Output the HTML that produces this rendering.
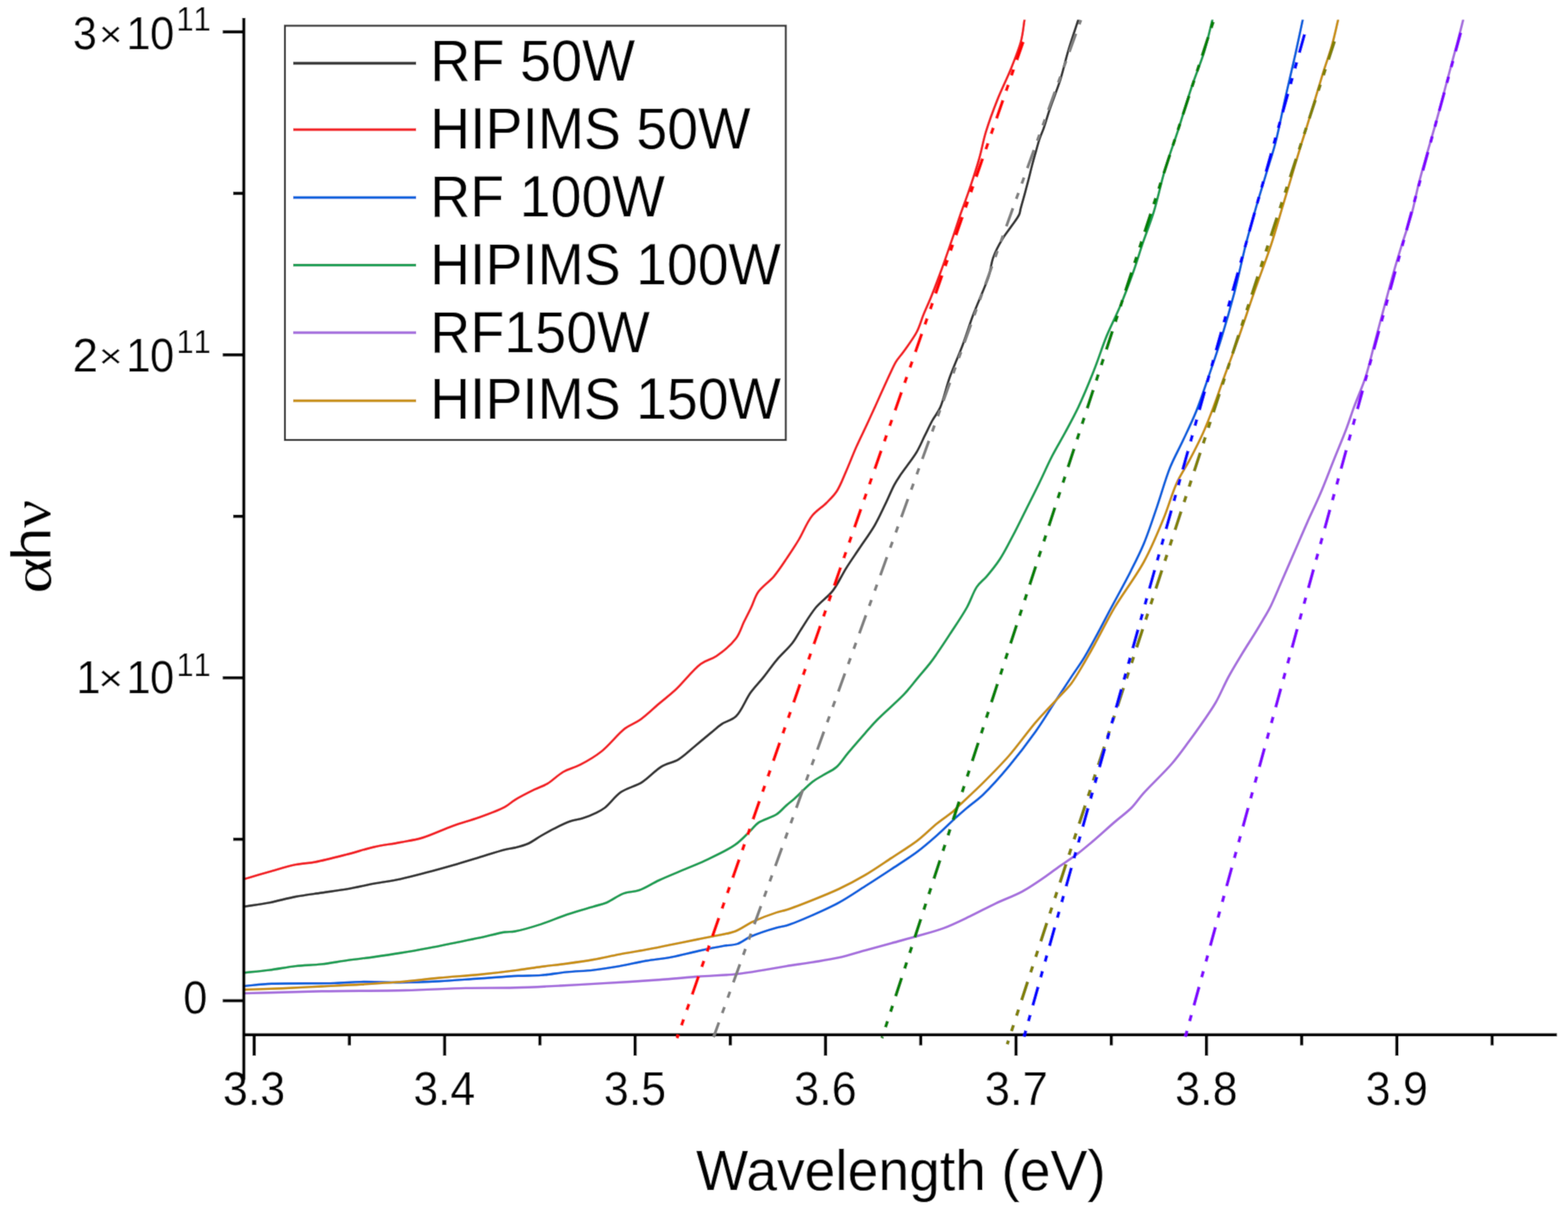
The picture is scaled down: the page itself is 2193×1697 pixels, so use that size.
<!DOCTYPE html>
<html><head><meta charset="utf-8"><style>html,body{margin:0;padding:0;background:#fff;overflow:hidden}svg{display:block}</style></head>
<body><svg width="2193" height="1697" viewBox="0 0 2193 1697">
<defs><filter id="soft" x="0" y="0" width="100%" height="100%" filterUnits="userSpaceOnUse"><feConvolveMatrix order="3" kernelMatrix="0.0225 0.105 0.0225 0.105 0.49 0.105 0.0225 0.105 0.0225" divisor="1" edgeMode="duplicate" preserveAlpha="true"/></filter></defs>
<g filter="url(#soft)">
<rect width="100%" height="100%" fill="#fff"/>
<defs><clipPath id="pc"><rect x="343" y="27.5" width="1840" height="1424"/></clipPath></defs>
<g clip-path="url(#pc)" fill="none" stroke-linejoin="round" stroke-linecap="round">
<path d="M341.8,1268.3 C353.4,1266.5 364.9,1265.0 376.6,1262.8 C388.7,1260.5 401.0,1256.8 413.3,1254.5 C425.5,1252.2 437.7,1250.8 449.9,1249.0 C462.1,1247.2 474.3,1245.7 486.5,1243.6 C498.8,1241.5 511.0,1238.5 523.2,1236.2 C535.4,1233.9 547.6,1232.4 559.8,1229.8 C572.0,1227.2 584.2,1223.9 596.4,1220.7 C608.6,1217.5 620.8,1214.1 633.0,1210.6 C645.2,1207.1 657.5,1203.3 669.7,1199.6 C681.9,1195.9 697.0,1190.9 706.3,1188.6 C711.9,1187.2 715.1,1187.2 720.0,1186.0 C725.7,1184.6 732.4,1183.0 738.3,1180.4 C744.6,1177.6 750.5,1172.9 756.6,1169.4 C762.7,1165.9 768.5,1162.6 775.0,1159.3 C781.9,1155.8 789.9,1151.7 797.0,1149.2 C803.2,1147.0 809.2,1146.6 815.2,1144.7 C821.4,1142.7 828.2,1140.0 833.6,1137.3 C838.2,1135.0 841.5,1133.4 846.0,1130.0 C852.6,1124.9 859.9,1114.1 868.4,1108.2 C877.1,1102.2 888.4,1100.3 897.7,1094.5 C907.4,1088.5 915.9,1078.0 925.1,1072.5 C933.0,1067.8 941.3,1067.1 948.9,1062.5 C957.2,1057.5 964.9,1049.6 972.7,1043.2 C980.2,1037.0 988.1,1030.3 994.7,1024.9 C1000.1,1020.5 1003.9,1016.7 1009.4,1013.0 C1015.4,1009.0 1023.5,1007.8 1029.5,1002.0 C1037.3,994.5 1042.8,978.7 1049.7,969.0 C1055.7,960.7 1062.0,954.6 1068.0,947.1 C1074.2,939.4 1079.7,931.1 1086.3,923.3 C1093.1,915.2 1102.4,907.2 1108.3,899.5 C1113.2,893.2 1115.5,888.0 1120.0,881.1 C1125.9,872.1 1133.3,859.3 1141.0,850.0 C1148.3,841.2 1157.9,835.3 1164.8,826.4 C1172.0,817.2 1176.9,805.3 1183.2,795.3 C1189.2,785.8 1195.1,777.4 1201.5,767.8 C1208.5,757.3 1217.1,745.7 1223.4,734.8 C1229.1,724.9 1233.4,715.1 1238.1,705.5 C1242.6,696.2 1246.8,685.7 1250.9,678.1 C1254.0,672.3 1256.3,669.1 1260.1,663.4 C1265.8,654.9 1276.3,642.0 1282.1,632.3 C1286.7,624.5 1289.4,617.6 1293.0,610.3 C1296.7,603.0 1300.2,595.2 1304.0,588.3 C1307.5,581.8 1311.6,577.6 1315.0,570.0 C1319.9,559.1 1323.1,542.3 1328.2,528.1 C1333.6,513.1 1340.9,497.3 1346.5,482.3 C1351.8,468.0 1356.3,453.1 1361.2,440.2 C1365.5,429.0 1370.1,418.7 1374.0,409.0 C1377.4,400.5 1380.7,393.3 1383.2,385.2 C1385.7,377.0 1386.2,368.3 1389.2,360.0 C1392.4,351.3 1397.4,342.0 1402.0,334.4 C1406.0,327.7 1410.7,322.2 1414.7,316.3 C1418.5,310.8 1423.3,305.0 1425.4,300.3 C1426.8,297.2 1426.6,295.2 1427.5,291.8 C1428.8,286.7 1431.0,279.2 1432.8,272.7 C1434.6,266.0 1436.4,259.3 1438.2,252.4 C1440.0,245.4 1441.7,238.0 1443.5,231.1 C1445.2,224.5 1447.0,218.3 1448.8,212.0 C1450.5,205.9 1452.2,199.4 1454.1,193.8 C1455.8,188.8 1457.6,185.4 1459.5,180.0 C1462.2,172.3 1465.0,162.1 1468.5,151.9 C1472.7,139.6 1478.7,125.1 1483.0,111.6 C1487.2,98.2 1489.9,84.9 1494.0,71.3 C1498.2,57.1 1503.3,42.6 1507.9,28.2" stroke="#333333" stroke-width="3.4"/>
<path d="M341.8,1229.8 C353.4,1226.4 364.8,1223.0 376.6,1219.7 C388.7,1216.3 401.9,1212.0 413.3,1209.7 C423.0,1207.7 430.5,1207.9 440.7,1206.0 C454.1,1203.5 472.1,1198.7 486.5,1195.0 C499.4,1191.7 510.7,1187.8 523.0,1185.0 C535.2,1182.3 548.1,1180.8 559.8,1178.5 C570.6,1176.4 580.0,1175.3 591.0,1172.0 C604.1,1168.1 619.4,1160.5 633.0,1155.6 C645.6,1151.1 657.6,1148.1 669.7,1143.7 C681.9,1139.3 696.9,1133.9 706.0,1129.0 C712.0,1125.7 714.4,1122.6 720.0,1119.2 C727.5,1114.6 739.2,1108.7 747.5,1104.6 C754.2,1101.3 759.6,1099.9 765.8,1096.3 C773.0,1092.0 780.0,1084.4 787.8,1079.9 C795.3,1075.6 803.4,1074.1 811.6,1069.8 C821.0,1064.9 831.3,1059.1 840.9,1051.5 C852.0,1042.8 863.5,1027.3 873.8,1019.4 C881.5,1013.6 888.4,1011.8 895.8,1006.6 C904.3,1000.6 913.1,991.8 921.5,984.6 C929.6,977.7 936.8,972.4 945.3,964.5 C956.0,954.5 969.2,936.8 980.1,928.8 C987.7,923.2 994.6,922.8 1002.0,917.8 C1011.1,911.6 1022.9,901.8 1029.5,893.0 C1034.9,885.7 1036.9,877.5 1040.5,870.1 C1043.9,863.2 1047.2,856.9 1050.5,850.0 C1053.9,842.9 1055.6,835.1 1060.4,828.2 C1065.8,820.4 1075.7,814.2 1082.4,806.3 C1089.1,798.3 1094.9,789.2 1100.7,780.6 C1106.4,772.1 1111.7,764.2 1117.2,755.0 C1123.3,744.8 1128.4,730.9 1135.5,722.0 C1141.5,714.4 1149.7,709.8 1155.7,703.7 C1161.1,698.2 1166.0,693.8 1170.3,687.2 C1175.4,679.5 1178.9,669.5 1183.2,659.7 C1188.0,648.8 1192.8,636.1 1197.8,624.9 C1202.6,614.2 1208.0,603.5 1212.5,593.8 C1216.4,585.3 1219.1,579.4 1223.4,570.0 C1229.5,556.5 1240.3,532.4 1245.8,520.8 C1248.8,514.4 1250.2,510.9 1253.1,506.1 C1256.2,501.1 1260.1,497.2 1264.1,491.5 C1269.5,483.8 1277.7,473.1 1282.4,464.0 C1286.5,456.0 1288.3,448.3 1291.6,440.2 C1295.0,431.8 1298.8,424.0 1302.6,414.5 C1307.2,403.0 1312.4,389.2 1317.2,376.1 C1322.2,362.4 1327.4,347.2 1331.9,334.0 C1335.9,322.3 1339.1,312.0 1342.9,301.0 C1346.8,289.8 1350.9,279.4 1355.0,267.3 C1359.8,253.2 1365.5,236.0 1369.6,221.5 C1373.3,208.7 1374.9,197.6 1378.8,184.8 C1383.2,170.3 1389.3,153.8 1395.2,139.0 C1400.9,124.6 1408.0,110.9 1413.6,96.9 C1419.0,83.4 1425.0,69.0 1428.2,56.6 C1430.8,46.4 1431.3,37.7 1432.8,28.2" stroke="#F21E22" stroke-width="3.4"/>
<path d="M341.8,1379.5 C354.5,1378.4 364.6,1377.0 380.0,1376.3 C403.3,1375.2 445.0,1376.1 468.0,1375.4 C482.9,1375.0 491.3,1373.8 504.8,1373.6 C521.3,1373.3 541.6,1374.7 560.0,1374.5 C578.3,1374.3 596.4,1373.6 614.7,1372.7 C633.0,1371.8 651.4,1370.2 669.7,1369.0 C688.0,1367.8 708.7,1366.1 724.6,1365.3 C736.7,1364.7 745.6,1365.2 756.6,1364.4 C768.4,1363.5 781.1,1361.1 793.3,1359.9 C805.5,1358.7 817.7,1358.5 829.9,1357.1 C842.1,1355.7 854.3,1353.7 866.5,1351.6 C878.8,1349.5 890.9,1346.4 903.2,1344.3 C915.4,1342.2 927.6,1341.1 939.8,1338.8 C952.0,1336.5 964.2,1333.1 976.4,1330.5 C988.6,1327.9 1002.9,1325.0 1013.0,1323.2 C1020.2,1322.0 1025.5,1322.5 1031.4,1320.5 C1037.7,1318.4 1042.4,1313.6 1049.7,1310.4 C1059.7,1306.0 1077.0,1300.4 1086.3,1297.8 C1091.9,1296.2 1094.4,1296.5 1100.0,1294.8 C1109.4,1291.9 1124.5,1285.5 1136.6,1280.2 C1148.9,1274.8 1161.3,1269.4 1173.3,1262.8 C1185.7,1256.0 1197.7,1247.7 1209.9,1239.9 C1222.1,1232.1 1234.3,1224.2 1246.5,1216.1 C1258.8,1208.0 1272.1,1199.8 1283.2,1191.4 C1293.2,1183.9 1301.6,1176.5 1310.6,1168.5 C1319.9,1160.3 1330.3,1149.8 1338.1,1142.8 C1343.7,1137.7 1347.3,1134.6 1352.7,1130.0 C1359.2,1124.4 1366.7,1119.5 1374.7,1111.9 C1385.7,1101.4 1399.5,1085.9 1411.4,1071.6 C1423.9,1056.6 1436.9,1039.6 1448.0,1024.0 C1458.1,1009.7 1466.8,995.3 1475.5,981.9 C1483.5,969.7 1491.1,958.0 1498.3,947.1 C1504.7,937.4 1510.7,929.3 1516.6,919.6 C1522.9,909.2 1528.9,897.8 1535.0,886.6 C1541.2,875.2 1546.5,864.6 1553.3,851.8 C1561.7,836.0 1573.3,815.2 1581.5,798.9 C1588.4,785.2 1594.0,774.4 1599.8,760.5 C1606.3,744.8 1612.1,726.6 1618.1,709.2 C1624.3,691.2 1629.8,670.7 1636.4,654.2 C1642.1,640.1 1648.7,628.8 1654.7,615.8 C1660.9,602.6 1667.3,589.6 1673.0,575.5 C1679.1,560.5 1684.2,544.5 1689.9,528.1 C1696.0,510.5 1702.3,492.3 1708.2,473.2 C1714.5,452.7 1720.8,430.7 1726.5,409.0 C1732.3,387.0 1737.2,362.4 1742.4,342.0 C1746.8,324.8 1750.9,310.4 1755.4,294.7 C1759.9,278.9 1764.9,263.1 1769.6,247.3 C1774.3,231.5 1779.4,216.9 1783.8,200.0 C1788.7,181.0 1792.6,159.6 1797.2,139.0 C1801.9,117.9 1807.5,94.7 1811.9,75.0 C1815.6,58.2 1818.6,43.8 1821.9,28.2" stroke="#0560DD" stroke-width="3.4"/>
<path d="M341.8,1360.8 C353.4,1359.6 364.9,1358.6 376.6,1357.1 C388.7,1355.6 401.0,1353.0 413.3,1351.6 C425.5,1350.2 437.7,1350.3 449.9,1348.9 C462.1,1347.5 474.3,1345.1 486.5,1343.4 C498.7,1341.7 511.0,1340.5 523.2,1338.8 C535.4,1337.1 547.6,1335.3 559.8,1333.3 C572.0,1331.3 584.2,1329.2 596.4,1326.9 C608.6,1324.6 620.8,1322.0 633.0,1319.6 C645.2,1317.1 657.5,1314.8 669.7,1312.2 C681.9,1309.6 697.0,1305.4 706.3,1304.0 C711.9,1303.2 714.4,1304.0 720.0,1303.0 C729.3,1301.4 744.5,1296.9 756.6,1293.0 C768.9,1289.0 781.0,1283.4 793.3,1279.3 C805.4,1275.2 819.8,1271.3 829.9,1268.3 C837.0,1266.2 841.8,1265.4 848.2,1262.8 C855.8,1259.7 864.0,1252.9 872.0,1250.0 C879.3,1247.3 886.4,1248.0 894.0,1245.4 C902.9,1242.3 911.6,1236.2 921.5,1231.6 C932.7,1226.4 946.7,1220.8 958.0,1216.0 C967.8,1211.8 975.5,1209.0 985.6,1204.2 C998.3,1198.2 1016.3,1190.2 1027.7,1182.2 C1036.7,1175.9 1043.7,1167.8 1049.7,1162.0 C1054.0,1157.8 1055.9,1154.3 1060.7,1151.0 C1067.2,1146.5 1079.4,1143.8 1086.3,1139.2 C1091.9,1135.5 1095.6,1130.4 1100.0,1126.6 C1103.8,1123.2 1106.6,1121.3 1111.0,1117.4 C1117.8,1111.4 1129.0,1099.4 1136.6,1093.6 C1142.0,1089.5 1146.1,1087.6 1151.3,1084.4 C1157.1,1080.9 1164.0,1078.2 1169.6,1073.4 C1175.7,1068.1 1180.0,1060.5 1186.1,1053.3 C1193.3,1044.8 1202.7,1034.0 1209.9,1025.8 C1215.9,1019.0 1219.6,1014.5 1226.4,1007.5 C1236.4,997.2 1254.6,981.8 1264.8,970.9 C1272.3,962.9 1277.1,956.2 1283.2,948.9 C1289.3,941.6 1296.6,933.3 1301.5,926.9 C1305.2,922.1 1307.1,919.2 1310.6,914.1 C1315.7,906.7 1322.5,896.5 1328.9,886.6 C1336.3,875.3 1345.7,861.7 1352.2,850.0 C1357.8,839.9 1361.0,828.6 1366.3,820.9 C1370.5,814.8 1375.2,811.9 1380.0,806.3 C1385.8,799.5 1392.5,791.3 1398.3,782.5 C1404.8,772.6 1410.6,760.8 1416.6,749.5 C1422.8,737.7 1428.9,725.1 1435.0,712.9 C1441.1,700.7 1447.3,688.6 1453.3,676.2 C1459.5,663.6 1465.3,650.0 1471.6,637.8 C1477.5,626.3 1483.9,616.0 1489.9,604.8 C1496.0,593.4 1501.9,582.8 1508.0,570.0 C1515.2,554.7 1523.0,535.9 1529.7,518.9 C1536.3,502.4 1541.6,485.0 1548.0,469.5 C1553.9,455.3 1560.4,443.3 1566.3,429.2 C1572.6,414.1 1579.0,397.2 1584.6,381.6 C1589.9,366.8 1594.1,352.3 1599.0,338.0 C1603.8,324.1 1608.8,312.1 1613.5,297.0 C1619.1,278.8 1623.8,255.8 1629.7,236.1 C1635.3,217.2 1642.0,199.8 1648.0,181.2 C1654.2,162.0 1660.0,141.4 1666.3,122.6 C1672.2,104.9 1679.6,87.8 1684.6,71.3 C1689.1,56.4 1691.9,42.6 1695.6,28.2" stroke="#179E53" stroke-width="3.4"/>
<path d="M341.8,1389.7 C377.8,1388.7 413.1,1387.5 449.9,1386.8 C488.2,1386.1 531.2,1386.4 567.0,1385.5 C597.4,1384.8 624.7,1383.0 651.4,1382.4 C675.4,1381.9 697.5,1382.4 720.0,1381.8 C741.7,1381.2 762.7,1380.1 784.0,1379.0 C805.4,1377.9 826.1,1376.7 848.2,1375.4 C871.8,1374.0 898.8,1372.4 921.5,1370.8 C941.1,1369.4 958.1,1367.7 976.4,1366.3 C994.7,1364.9 1015.0,1364.4 1031.4,1362.6 C1044.9,1361.1 1056.2,1359.0 1068.0,1357.1 C1079.0,1355.3 1089.0,1353.4 1100.0,1351.6 C1111.8,1349.7 1124.4,1348.1 1136.6,1346.1 C1148.8,1344.1 1161.1,1342.4 1173.3,1339.7 C1185.6,1336.9 1197.7,1333.0 1209.9,1329.6 C1222.1,1326.3 1234.3,1322.9 1246.5,1319.6 C1258.7,1316.2 1271.0,1313.0 1283.2,1309.5 C1295.4,1306.0 1307.7,1303.0 1319.8,1298.5 C1332.2,1293.9 1344.3,1287.8 1356.4,1282.0 C1368.7,1276.2 1380.7,1269.5 1393.0,1263.7 C1405.2,1257.9 1417.7,1253.7 1429.7,1247.2 C1442.2,1240.4 1457.1,1229.8 1466.3,1223.4 C1472.0,1219.4 1474.6,1217.2 1480.0,1213.3 C1487.6,1207.9 1499.2,1200.4 1507.5,1194.1 C1514.8,1188.5 1520.2,1183.9 1527.6,1177.6 C1536.9,1169.7 1549.1,1158.5 1558.8,1150.1 C1567.2,1142.8 1575.7,1137.0 1582.6,1130.0 C1588.9,1123.6 1592.1,1117.8 1599.0,1110.1 C1609.3,1098.5 1627.9,1081.3 1639.3,1068.0 C1648.6,1057.1 1655.8,1046.7 1663.2,1036.8 C1669.8,1027.9 1675.5,1019.9 1681.5,1011.2 C1687.7,1002.2 1694.0,993.7 1699.8,983.7 C1706.3,972.6 1711.8,958.7 1718.1,947.1 C1724.0,936.2 1730.2,926.1 1736.4,915.9 C1742.4,905.9 1749.4,895.2 1754.7,886.6 C1758.9,879.8 1762.1,874.4 1765.7,868.3 C1769.3,862.2 1772.6,857.2 1776.2,850.0 C1781.1,840.4 1786.3,827.5 1791.6,815.4 C1797.5,802.1 1803.8,787.3 1809.9,773.3 C1816.0,759.3 1822.0,745.1 1828.2,731.2 C1834.2,717.6 1840.6,704.8 1846.5,690.9 C1852.8,676.2 1858.7,660.4 1864.8,645.1 C1870.9,629.8 1878.1,612.9 1883.2,599.3 C1887.3,588.5 1889.6,580.6 1893.5,570.0 C1898.2,557.2 1904.8,543.2 1909.7,528.1 C1915.2,511.2 1919.4,491.5 1924.3,473.2 C1929.2,454.9 1934.4,435.1 1939.0,418.2 C1942.9,403.7 1946.2,391.0 1950.0,377.9 C1953.6,365.4 1957.1,353.9 1961.0,341.3 C1965.2,327.8 1970.4,313.5 1974.3,299.5 C1978.1,285.7 1980.5,271.7 1984.0,258.0 C1987.4,244.5 1991.0,232.0 1995.0,217.8 C1999.5,201.7 2004.9,183.9 2009.7,166.5 C2014.7,148.5 2019.4,129.9 2024.3,111.6 C2029.2,93.3 2035.0,71.9 2039.0,56.6 C2041.9,45.6 2043.9,37.7 2046.3,28.2" stroke="#A66EDD" stroke-width="3.4"/>
<path d="M341.8,1384.6 C359.5,1384.0 377.1,1383.5 395.0,1382.7 C413.2,1381.9 431.6,1380.9 449.9,1380.0 C468.2,1379.1 486.5,1378.4 504.8,1377.3 C523.1,1376.2 541.5,1375.1 559.8,1373.6 C578.1,1372.0 596.4,1369.7 614.7,1368.0 C633.0,1366.3 651.4,1365.3 669.7,1363.5 C688.0,1361.7 708.8,1359.2 724.6,1357.1 C736.7,1355.5 745.6,1354.0 756.6,1352.5 C768.4,1350.9 781.1,1349.7 793.3,1348.0 C805.5,1346.3 817.7,1344.6 829.9,1342.5 C842.1,1340.3 854.3,1337.4 866.5,1335.1 C878.7,1332.8 891.0,1331.0 903.2,1328.7 C915.4,1326.4 927.6,1323.8 939.8,1321.4 C952.0,1318.9 966.3,1316.0 976.4,1314.0 C983.5,1312.6 987.7,1311.9 994.7,1310.4 C1004.1,1308.4 1017.6,1306.8 1027.7,1303.1 C1037.0,1299.6 1044.1,1293.6 1053.3,1289.3 C1063.5,1284.6 1077.6,1279.3 1086.3,1276.5 C1091.8,1274.7 1094.4,1274.7 1100.0,1272.9 C1109.3,1269.9 1124.4,1264.0 1136.6,1259.1 C1148.9,1254.2 1161.2,1249.3 1173.3,1243.6 C1185.6,1237.8 1197.9,1231.4 1209.9,1224.3 C1222.3,1217.0 1234.3,1208.6 1246.5,1200.5 C1258.8,1192.4 1272.1,1184.3 1283.2,1175.8 C1293.3,1168.1 1301.8,1159.1 1310.6,1152.0 C1318.2,1145.8 1327.0,1140.3 1332.6,1135.5 C1336.5,1132.2 1337.8,1130.5 1341.8,1126.6 C1349.4,1119.3 1363.6,1106.5 1374.7,1095.4 C1386.7,1083.4 1399.5,1070.6 1411.4,1057.0 C1423.9,1042.7 1436.0,1025.2 1448.0,1011.2 C1458.8,998.6 1470.8,986.4 1480.0,976.4 C1487.0,968.8 1492.5,963.8 1498.3,956.2 C1504.8,947.6 1510.6,937.0 1516.6,926.9 C1522.9,916.3 1528.5,905.8 1535.0,894.0 C1542.5,880.4 1549.5,865.8 1558.8,850.0 C1570.3,830.5 1588.1,807.5 1599.8,786.1 C1610.7,766.1 1619.4,745.0 1627.3,725.7 C1634.4,708.5 1638.9,690.8 1645.6,676.2 C1651.3,663.9 1657.9,654.6 1663.9,643.3 C1670.1,631.5 1676.6,618.9 1682.2,606.6 C1687.7,594.5 1692.2,582.7 1697.0,570.0 C1702.1,556.6 1706.5,543.0 1711.9,528.1 C1718.1,511.0 1725.2,492.3 1732.0,473.2 C1739.3,452.7 1746.4,430.6 1754.0,409.0 C1761.7,386.9 1771.2,362.5 1777.9,342.0 C1783.5,324.9 1787.4,310.5 1792.1,294.7 C1796.8,278.9 1801.6,263.1 1806.3,247.3 C1811.0,231.5 1816.7,212.2 1820.5,200.0 C1822.9,192.3 1824.2,188.7 1826.5,181.2 C1830.0,169.9 1835.2,152.6 1839.3,139.0 C1843.1,126.4 1846.4,114.9 1850.3,102.4 C1854.4,89.3 1859.6,75.0 1863.2,62.1 C1866.5,50.4 1868.7,39.5 1871.4,28.2" stroke="#C8900A" stroke-width="3.4"/>
</g>
<g stroke="#000" stroke-width="4.5" fill="none" stroke-linecap="butt">
<line x1="341" y1="25" x2="341" y2="1510.5"/>
<line x1="339" y1="1447.8" x2="2177.5" y2="1447.8"/>
<line x1="355.5" y1="1446" x2="355.5" y2="1477"/>
<line x1="488.7" y1="1446" x2="488.7" y2="1462.5"/>
<line x1="621.9" y1="1446" x2="621.9" y2="1477"/>
<line x1="755.1" y1="1446" x2="755.1" y2="1462.5"/>
<line x1="888.2" y1="1446" x2="888.2" y2="1477"/>
<line x1="1021.4" y1="1446" x2="1021.4" y2="1462.5"/>
<line x1="1154.6" y1="1446" x2="1154.6" y2="1477"/>
<line x1="1287.8" y1="1446" x2="1287.8" y2="1462.5"/>
<line x1="1421.0" y1="1446" x2="1421.0" y2="1477"/>
<line x1="1554.2" y1="1446" x2="1554.2" y2="1462.5"/>
<line x1="1687.3" y1="1446" x2="1687.3" y2="1477"/>
<line x1="1820.5" y1="1446" x2="1820.5" y2="1462.5"/>
<line x1="1953.7" y1="1446" x2="1953.7" y2="1477"/>
<line x1="2086.9" y1="1446" x2="2086.9" y2="1462.5"/>
<line x1="311.5" y1="1400.0" x2="343" y2="1400.0"/>
<line x1="326" y1="1174.1" x2="343" y2="1174.1"/>
<line x1="311.5" y1="948.2" x2="343" y2="948.2"/>
<line x1="326" y1="722.3" x2="343" y2="722.3"/>
<line x1="311.5" y1="496.4" x2="343" y2="496.4"/>
<line x1="326" y1="270.5" x2="343" y2="270.5"/>
<line x1="311.5" y1="44.6" x2="343" y2="44.6"/>
</g>
<g fill="none" stroke-linecap="butt">
<path d="M946.9,1452.5 L1431.2,58.0" stroke="#FF0000" stroke-width="4.4" stroke-dasharray="27 13.8 9 13.8 9 13.9" stroke-dashoffset="21.8"/>
<path d="M998.0,1451.0 L1511.7,28.0" stroke="#7F7F7F" stroke-width="4.0" stroke-dasharray="27 13.8 9 13.8 9 13.9" stroke-dashoffset="5.0"/>
<path d="M1233.5,1452.5 L1697.6,28.0" stroke="#008000" stroke-width="4.4" stroke-dasharray="27 13.8 9 13.8 9 13.9" stroke-dashoffset="24.7"/>
<path d="M1408.7,1461.0 L1867.3,55.0" stroke="#808000" stroke-width="4.4" stroke-dasharray="27 13.8 9 13.8 9 13.9" stroke-dashoffset="21.5"/>
<path d="M1431.3,1454.0 L1824.5,48.0" stroke="#0000FF" stroke-width="4.4" stroke-dasharray="27 13.8 9 13.8 9 13.9" stroke-dashoffset="37.3"/>
<path d="M1657.3,1452.5 L2043.1,45.0" stroke="#8000FF" stroke-width="4.4" stroke-dasharray="27 13.8 9 13.8 9 13.9" stroke-dashoffset="38.9"/>
</g>
<rect x="398.5" y="36" width="700.5" height="579.5" fill="#fff" stroke="#333" stroke-width="2.8"/>
<line x1="410" y1="88.5" x2="582" y2="88.5" stroke="#333333" stroke-width="3.8"/>
<line x1="410" y1="181.4" x2="582" y2="181.4" stroke="#F21E22" stroke-width="3.8"/>
<line x1="410" y1="276.3" x2="582" y2="276.3" stroke="#0560DD" stroke-width="3.8"/>
<line x1="410" y1="370.8" x2="582" y2="370.8" stroke="#179E53" stroke-width="3.8"/>
<line x1="410" y1="465.4" x2="582" y2="465.4" stroke="#A66EDD" stroke-width="3.8"/>
<line x1="410" y1="560.6" x2="582" y2="560.6" stroke="#C8900A" stroke-width="3.8"/>
<text transform="translate(101.96,69.00) scale(0.9129,0.9913)" font-family="&quot;Liberation Sans&quot;, sans-serif" font-size="66" fill="#000">3</text>
<text transform="translate(138.50,65.08) scale(1.0000,0.8800)" font-family="&quot;Liberation Sans&quot;, sans-serif" font-size="56" fill="#000">×</text>
<text transform="translate(176.73,69.00) scale(0.9219,0.9913)" font-family="&quot;Liberation Sans&quot;, sans-serif" font-size="66" fill="#000">1</text>
<text transform="translate(209.71,69.00) scale(0.9290,0.9913)" font-family="&quot;Liberation Sans&quot;, sans-serif" font-size="66" fill="#000">0</text>
<text transform="translate(246.62,42.90) scale(0.9780,1.0516)" font-family="&quot;Liberation Sans&quot;, sans-serif" font-size="45" fill="#000">1</text>
<text transform="translate(270.62,42.90) scale(0.9780,1.0516)" font-family="&quot;Liberation Sans&quot;, sans-serif" font-size="45" fill="#000">1</text>
<text transform="translate(101.38,519.60) scale(0.9733,1.0087)" font-family="&quot;Liberation Sans&quot;, sans-serif" font-size="66" fill="#000">2</text>
<text transform="translate(138.33,514.49) scale(1.0167,0.8320)" font-family="&quot;Liberation Sans&quot;, sans-serif" font-size="56" fill="#000">×</text>
<text transform="translate(176.37,519.60) scale(0.9381,1.0087)" font-family="&quot;Liberation Sans&quot;, sans-serif" font-size="66" fill="#000">1</text>
<text transform="translate(209.72,519.60) scale(0.9258,1.0087)" font-family="&quot;Liberation Sans&quot;, sans-serif" font-size="66" fill="#000">0</text>
<text transform="translate(246.81,493.50) scale(0.9660,1.0387)" font-family="&quot;Liberation Sans&quot;, sans-serif" font-size="45" fill="#000">1</text>
<text transform="translate(270.81,493.50) scale(0.9660,1.0387)" font-family="&quot;Liberation Sans&quot;, sans-serif" font-size="45" fill="#000">1</text>
<text transform="translate(106.79,969.80) scale(0.9239,0.9935)" font-family="&quot;Liberation Sans&quot;, sans-serif" font-size="66" fill="#000">1</text>
<text transform="translate(137.57,965.66) scale(1.0583,0.8760)" font-family="&quot;Liberation Sans&quot;, sans-serif" font-size="56" fill="#000">×</text>
<text transform="translate(176.69,969.80) scale(0.9239,0.9935)" font-family="&quot;Liberation Sans&quot;, sans-serif" font-size="66" fill="#000">1</text>
<text transform="translate(209.72,969.80) scale(0.9258,0.9935)" font-family="&quot;Liberation Sans&quot;, sans-serif" font-size="66" fill="#000">0</text>
<text transform="translate(247.08,946.10) scale(0.9480,1.0194)" font-family="&quot;Liberation Sans&quot;, sans-serif" font-size="45" fill="#000">1</text>
<text transform="translate(271.08,946.10) scale(0.9480,1.0194)" font-family="&quot;Liberation Sans&quot;, sans-serif" font-size="45" fill="#000">1</text>
<text transform="translate(256.24,1418.40) scale(0.9194,0.9957)" font-family="&quot;Liberation Sans&quot;, sans-serif" font-size="66" fill="#000">0</text>
<text transform="translate(311.75,1545.80) scale(0.9512,1.0174)" font-family="&quot;Liberation Sans&quot;, sans-serif" font-size="66" fill="#000">3.3</text>
<text transform="translate(578.15,1545.80) scale(0.9402,1.0174)" font-family="&quot;Liberation Sans&quot;, sans-serif" font-size="66" fill="#000">3.4</text>
<text transform="translate(844.49,1545.80) scale(0.9512,1.0174)" font-family="&quot;Liberation Sans&quot;, sans-serif" font-size="66" fill="#000">3.5</text>
<text transform="translate(1110.86,1545.80) scale(0.9512,1.0174)" font-family="&quot;Liberation Sans&quot;, sans-serif" font-size="66" fill="#000">3.6</text>
<text transform="translate(1377.19,1545.80) scale(0.9624,1.0174)" font-family="&quot;Liberation Sans&quot;, sans-serif" font-size="66" fill="#000">3.7</text>
<text transform="translate(1643.60,1545.80) scale(0.9512,1.0174)" font-family="&quot;Liberation Sans&quot;, sans-serif" font-size="66" fill="#000">3.8</text>
<text transform="translate(1909.97,1545.80) scale(0.9512,1.0174)" font-family="&quot;Liberation Sans&quot;, sans-serif" font-size="66" fill="#000">3.9</text>
<text transform="translate(973.60,1664.70) scale(1.0042,1.0377)" font-family="&quot;Liberation Sans&quot;, sans-serif" font-size="77" fill="#000">Wavelength (eV)</text>
<text transform="translate(601.38,112.90) scale(1.0029,1.0450)" font-family="&quot;Liberation Sans&quot;, sans-serif" font-size="78" fill="#000">RF 50W</text>
<text transform="translate(601.43,208.20) scale(0.9944,1.0450)" font-family="&quot;Liberation Sans&quot;, sans-serif" font-size="78" fill="#000">HIPIMS 50W</text>
<text transform="translate(601.41,302.60) scale(0.9975,1.0450)" font-family="&quot;Liberation Sans&quot;, sans-serif" font-size="78" fill="#000">RF 100W</text>
<text transform="translate(601.44,397.90) scale(0.9930,1.0450)" font-family="&quot;Liberation Sans&quot;, sans-serif" font-size="78" fill="#000">HIPIMS 100W</text>
<text transform="translate(601.41,493.10) scale(0.9990,1.0450)" font-family="&quot;Liberation Sans&quot;, sans-serif" font-size="78" fill="#000">RF150W</text>
<text transform="translate(601.44,585.90) scale(0.9930,1.0450)" font-family="&quot;Liberation Sans&quot;, sans-serif" font-size="78" fill="#000">HIPIMS 150W</text>
<text transform="translate(70.55,830.43) rotate(-90) scale(1.2108,0.9538)" font-family="&quot;Liberation Serif&quot;, serif" font-size="80" fill="#000">α</text>
<text transform="translate(71.20,784.18) rotate(-90) scale(1.0303,0.9810)" font-family="&quot;Liberation Sans&quot;, sans-serif" font-size="80" fill="#000">h</text>
<text transform="translate(70.23,738.40) rotate(-90) scale(1.0853,0.9711)" font-family="&quot;Liberation Serif&quot;, serif" font-size="80" fill="#000">ν</text>
</g>
</svg></body></html>
